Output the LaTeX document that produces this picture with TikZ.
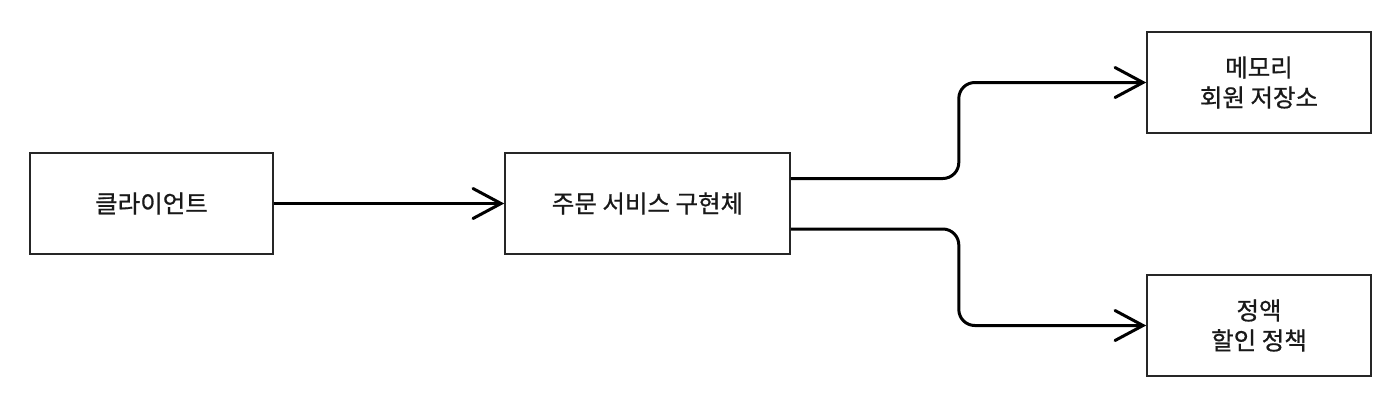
\documentclass[tikz,border=0pt]{standalone}
\usepackage{fontspec}
\setmainfont{Noto Sans CJK KR}[FakeBold=0.7]
\usetikzlibrary{arrows.meta}
\begin{document}
\begin{tikzpicture}[x=1pt,y=-1pt,
  box/.style={draw=black!85, line width=1.6pt, fill=white, inner sep=0pt, align=center,
    font=\fontsize{24.5}{30}\selectfont, text=black!90},
  conn/.style={draw=black, line width=3pt, -{Straight Barb[length=28pt,width=30pt,line cap=round]}, rounded corners=16pt}]
\useasboundingbox (0,0) rectangle (1398,408);
\node[box, minimum width=243pt, minimum height=101pt] (cli) at (151.5,203.5) {클라이언트};
\node[box, minimum width=285pt, minimum height=101pt] (svc) at (647.5,203.5) {주문 서비스 구현체};
\node[box, minimum width=224pt, minimum height=101pt] (mem) at (1259,82.5) {메모리\\회원 저장소};
\node[box, minimum width=224pt, minimum height=101pt] (disc) at (1259,325.5) {정액\\할인 정책};
\draw[conn] (cli.east) -- (svc.west);
\draw[conn] ([yshift=25pt]svc.east) -- ++(168,0) |- (mem.west);
\draw[conn] ([yshift=-25.5pt]svc.east) -- ++(168,0) |- (disc.west);
\end{tikzpicture}
\end{document}
